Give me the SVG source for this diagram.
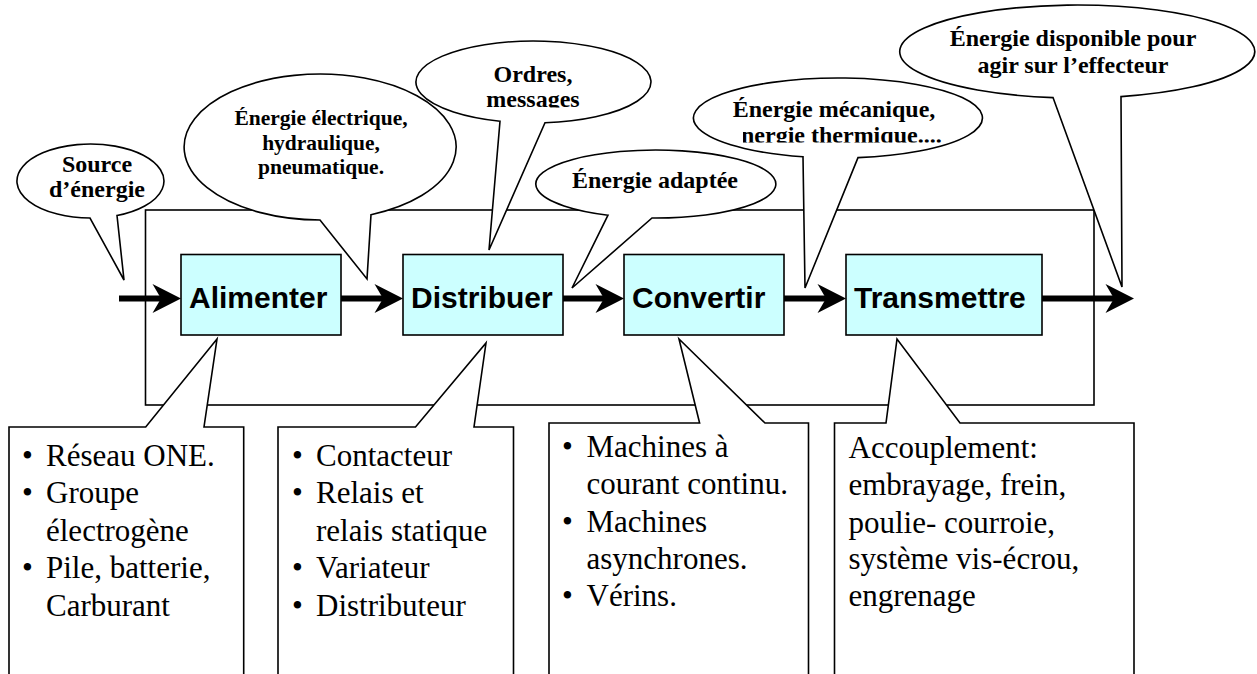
<svg xmlns="http://www.w3.org/2000/svg" width="1257" height="674" viewBox="0 0 1257 674">
<style>
.call{fill:#fff;stroke:#000;stroke-width:1.6;stroke-linejoin:miter}
.box{fill:#ccffff;stroke:#000;stroke-width:1.6}
.lbl{font-family:"Liberation Sans",Arial,sans-serif;font-weight:bold;font-size:30px;fill:#000}
.ct{font-family:"Liberation Serif","Times New Roman",serif;font-weight:bold;font-size:24px;text-anchor:middle;fill:#000}
.bt{font-family:"Liberation Serif","Times New Roman",serif;font-size:31px;fill:#000}
.frame{fill:none;stroke:#000;stroke-width:1.6}
.shaft{stroke:#000;stroke-width:6;fill:none}
</style>
<defs>
<path id="ah" d="M0,0 L-28.5,-14.5 L-20,0 L-28.5,14.5 Z" fill="#000"/>
<clipPath id="clipOrdres"><rect x="400" y="40" width="260" height="67.5"/></clipPath>
<clipPath id="clipMeca"><rect x="743" y="122" width="250" height="20.5"/></clipPath>
</defs>
<rect id="frame" class="frame" x="145.5" y="210" width="948.5" height="195"/>
<g id="callout-source">
<path class="call" d="M90,218 A73.5,37 0 1 1 117,215.5 L124,280 Z"/>
<text class="ct" font-size="23" x="97" y="171.5">Source</text>
<text class="ct" font-size="23" x="97" y="197">d’énergie</text>
</g>
<g id="callout-electrique">
<path class="call" d="M320,220 A136,73 0 1 1 371,214.7 L367,279 Z"/>
<text class="ct" style="font-size:21.5px" x="321" y="125">Énergie électrique,</text>
<text class="ct" style="font-size:21.5px" x="321" y="150">hydraulique,</text>
<text class="ct" style="font-size:21.5px" x="321" y="174">pneumatique.</text>
</g>
<g id="callout-ordres">
<path class="call" d="M500,121.3 A117.5,41 0 1 1 545,122.8 L489,250 Z"/>
<g clip-path="url(#clipOrdres)">
<text class="ct" x="533" y="82">Ordres,</text>
<text class="ct" x="533" y="106.5">messages</text>
</g>
</g>
<g id="callout-adaptee">
<path class="call" d="M608,215.2 A120,34 0 1 1 652,218 L572,288 Z"/>
<text class="ct" x="655" y="187.5">Énergie adaptée</text>
</g>
<g id="callout-mecanique">
<path class="call" d="M803,156.8 A144.5,40 0 1 1 858,157.6 L805,288 Z"/>
<text class="ct" x="834" y="117.3">Énergie mécanique,</text>
<g clip-path="url(#clipMeca)">
<text class="ct" x="836" y="143">énergie thermique....</text>
</g>
</g>
<g id="callout-disponible">
<path class="call" d="M1053,97.6 A177.5,46.5 0 1 1 1121,96.6 L1122,287 Z"/>
<text class="ct" x="1073" y="45.5">Énergie disponible pour</text>
<text class="ct" x="1073" y="73">agir sur l’effecteur</text>
</g>
<g id="note-alimenter">
<path class="call" d="M9,680 V427 H145.7 L217,339 L204,427 H243.7 V680 Z"/>
<text class="bt" x="22" y="465.5">•</text><text class="bt" x="46" y="465.5">Réseau ONE.</text>
<text class="bt" x="22" y="503">•</text><text class="bt" x="46" y="503">Groupe</text>
<text class="bt" x="46" y="540.5">électrogène</text>
<text class="bt" x="22" y="578">•</text><text class="bt" x="46" y="578">Pile, batterie,</text>
<text class="bt" x="46" y="616">Carburant</text>
</g>
<g id="note-distribuer">
<path class="call" d="M278,680 V427 H415.5 L486,343 L474,427 H513.5 V680 Z"/>
<text class="bt" x="292" y="465.5">•</text><text class="bt" x="316" y="465.5">Contacteur</text>
<text class="bt" x="292" y="503">•</text><text class="bt" x="316" y="503">Relais et</text>
<text class="bt" x="316" y="540.5">relais statique</text>
<text class="bt" x="292" y="578">•</text><text class="bt" x="316" y="578">Variateur</text>
<text class="bt" x="292" y="616">•</text><text class="bt" x="316" y="616">Distributeur</text>
</g>
<g id="note-convertir">
<path class="call" d="M549,680 V423 H699.6 L679,339 L765,423 H808.5 V680 Z"/>
<text class="bt" x="562" y="457">•</text><text class="bt" x="586.5" y="457">Machines à</text>
<text class="bt" x="586.5" y="494">courant continu.</text>
<text class="bt" x="562" y="531.5">•</text><text class="bt" x="586.5" y="531.5">Machines</text>
<text class="bt" x="586.5" y="569">asynchrones.</text>
<text class="bt" x="562" y="606">•</text><text class="bt" x="586.5" y="606">Vérins.</text>
</g>
<g id="note-transmettre">
<path class="call" d="M834.5,680 V423 H886 L897,339 L960,423 H1134 V680 Z"/>
<text class="bt" x="848.5" y="458">Accouplement:</text>
<text class="bt" x="848.5" y="495">embrayage, frein,</text>
<text class="bt" x="848.5" y="532.5">poulie- courroie,</text>
<text class="bt" x="848.5" y="569">système vis-écrou,</text>
<text class="bt" x="848.5" y="606">engrenage</text>
</g>
<g id="alimenter">
<rect class="box" x="181" y="254.5" width="160" height="80.5"/>
<text class="lbl" x="189" y="307.5">Alimenter</text>
</g>
<g id="distribuer">
<rect class="box" x="403" y="254.5" width="160" height="80.5"/>
<text class="lbl" x="411" y="307.5">Distribuer</text>
</g>
<g id="convertir">
<rect class="box" x="624" y="254.5" width="160" height="80.5"/>
<text class="lbl" x="632" y="307.5">Convertir</text>
</g>
<g id="transmettre">
<rect class="box" x="846" y="254.5" width="196" height="80.5"/>
<text class="lbl" x="854" y="307.5">Transmettre</text>
</g>
<g id="connectors">
<path class="shaft" d="M119,298.5 H162"/>
<use href="#ah" x="181" y="298.5"/>
<path class="shaft" d="M341,298.5 H384"/>
<use href="#ah" x="403" y="298.5"/>
<path class="shaft" d="M563,298.5 H605"/>
<use href="#ah" x="624" y="298.5"/>
<path class="shaft" d="M784,298.5 H827"/>
<use href="#ah" x="846" y="298.5"/>
<path class="shaft" d="M1042,298.5 H1115"/>
<use href="#ah" x="1134" y="298.5"/>
</g>
</svg>
